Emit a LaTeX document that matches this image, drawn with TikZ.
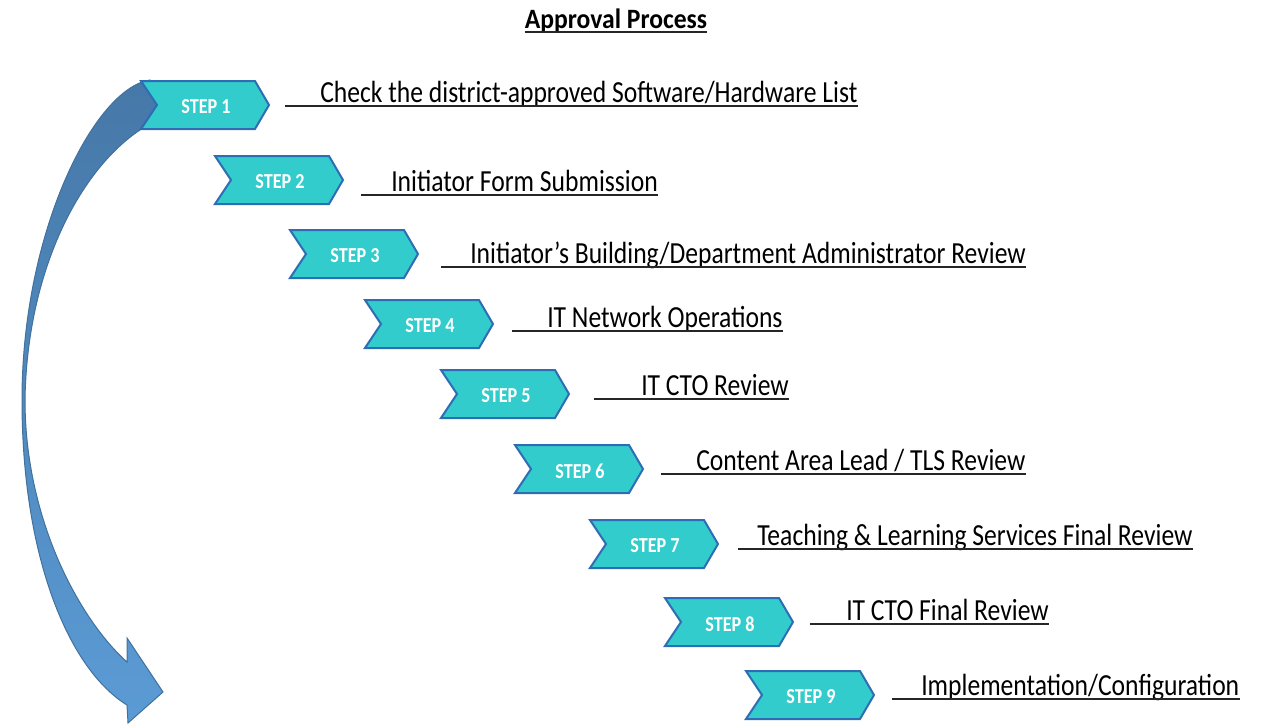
\documentclass[tikz,border=0pt]{standalone}
\usepackage{fontspec}
\setmainfont{Carlito}
\usetikzlibrary{calc}
\definecolor{chevfill}{RGB}{51,204,204}
\definecolor{chevline}{RGB}{46,109,180}
\definecolor{arrtop}{RGB}{70,120,168}
\definecolor{arrbot}{RGB}{91,155,213}
\definecolor{arrline}{RGB}{65,113,156}
\begin{document}
\begin{tikzpicture}[x=0.75pt,y=-0.75pt,
  chev/.style={draw=chevline, line width=1.5pt, fill=chevfill, line join=miter},
  steptxt/.style={text=white, font=\bfseries\fontsize{16}{16}\selectfont, inner sep=0},
  lbl/.style={anchor=base west, inner sep=0, font=\fontsize{23}{23}\selectfont},
  ttl/.style={anchor=base, inner sep=0, font=\bfseries\fontsize{21}{21}\selectfont},
  uline/.style={line width=1.4pt, draw=black!85},
  arrowbody/.style={top color=arrtop, bottom color=arrbot, draw=arrline, line width=0.75pt}]
\useasboundingbox (0,0) rectangle (1266,725);
% title
\node[ttl] (title) at (616,28) {\scalebox{0.915}[1]{Approval Process}};
\draw[uline] ($(title.base west)+(0,4)$) -- ($(title.base east)+(0,4)$);
% curved arrow
\shade[arrowbody]
 (150,80) .. controls (95,88) and (22,230) .. (22,400)
 .. controls (22,560) and (70,670) .. (127,705)
 -- (128,723) -- (163,692) -- (127,638) -- (127,662)
 .. controls (80,620) and (25,520) .. (25,400)
 .. controls (27,270) and (80,170) .. (140,130)
 -- (157,105) -- cycle;
% chevrons
\foreach \i/\x/\y in {1/141/81,2/215/156,3/290/230,4/365/300,5/441/370,6/515/445,7/590/520,8/665/598,9/746/671}{
  \draw[chev] (\x,\y) -- ++(114,0) -- ++(14,24) -- ++(-14,24) -- ++(-114,0) -- ++(16,-24) -- cycle;
  \node[steptxt] (s\i) at (\x+65,\y+26) {\scalebox{0.85}[1]{STEP \i}};
}
% labels
\foreach \i/\tx/\ux/\by/\t in {
 1/320/285/102/{Check the district-approved Software/Hardware List},
 2/391/361/191/{Initiator Form Submission},
 3/470/441/263/{Initiator’s Building/Department Administrator Review},
 4/547/512/327/{IT Network Operations},
 5/641/594/395/{IT CTO Review},
 6/696/661/470/{Content Area Lead / TLS Review},
 7/757/738/545/{Teaching \& Learning Services Final Review},
 8/846/810/620/{IT CTO Final Review},
 9/921/892/695/{Implementation/Configuration}}{
  \node[lbl] (l\i) at (\tx,\by) {\scalebox{0.835}[1]{\t}};
  \coordinate (u\i) at (\ux,\by+4);
  \draw[uline] (u\i) -- (u\i -| l\i.east);
}
\end{tikzpicture}
\end{document}
